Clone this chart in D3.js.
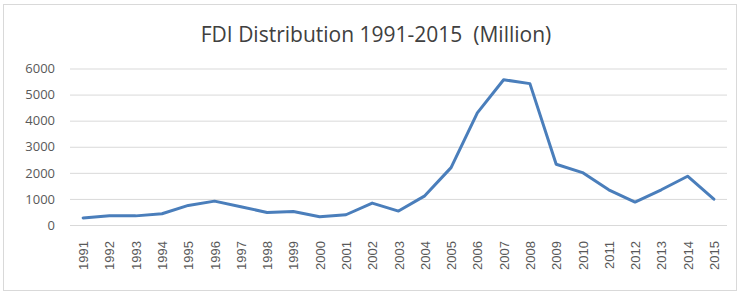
<!DOCTYPE html>
<html>
<head>
<meta charset="utf-8">
<script src="https://cdn.jsdelivr.net/npm/d3@7"></script>
<style>
  body { margin: 0; background: #fff; }
  svg { display: block; }
</style>
</head>
<body>
<svg id="chart" width="750" height="295"></svg>
<script>
// FDI values (million)
var years = ["1991","1992","1993","1994","1995","1996","1997","1998","1999","2000",
  "2001","2002","2003","2004","2005","2006","2007","2008","2009","2010",
  "2011","2012","2013","2014","2015"];
var fdi = [270, 355, 350, 430, 750, 915, 700, 480, 520, 317,
  393, 840, 534, 1118, 2200, 4300, 5570, 5420, 2330, 2010,
  1350, 878, 1350, 1870, 990];
var yTicks = [0, 1000, 2000, 3000, 4000, 5000, 6000];

var svg = d3.select("#chart"),
  margin = { top: 68, left: 70, bottom: 70, right: 23 },
  width = +svg.attr("width"),
  height = +svg.attr("height");

var data = years.map((y, i) => ({ year: y, value: fdi[i] }));

// frame
svg.append("rect")
  .attr("x", 3.5).attr("y", 4.5)
  .attr("width", 733).attr("height", 286)
  .attr("fill", "#fff")
  .attr("stroke", "#d9d9d9");

svg.append("text")
  .attr("x", 376)
  .attr("y", 42)
  .attr("text-anchor", "middle")
  .attr("fill", "#404040")
  .style("font-family", "'Open Sans', sans-serif")
  .style("font-size", "21px")
  .style("white-space", "pre")
  .text("FDI Distribution 1991-2015  (Million)");

var x = d3.scalePoint()
  .domain(years)
  .range([margin.left, width - margin.right])
  .padding(0.5);

var y = d3.scaleLinear().domain([0, 6000]).range([225, margin.top + 0.5]);

// gridlines + y labels
var yAxis = svg.append("g")
  .attr("class", "y-axis")
  .attr("transform", `translate(${margin.left},0)`)
  .call(d3.axisLeft(y).tickValues(yTicks).tickFormat(d3.format("d"))
    .tickSize(-(width - margin.left - margin.right)).tickPadding(15));
yAxis.select(".domain").remove();
yAxis.selectAll("line").attr("stroke", "#d9d9d9");
yAxis.selectAll("text")
  .attr("fill", "#595959")
  .style("font-family", "'Open Sans', sans-serif")
  .style("font-size", "13px");

// x labels
var xAxis = svg.append("g")
  .attr("class", "x-axis")
  .attr("transform", "translate(0,225)")
  .call(d3.axisBottom(x).tickSize(0).tickPadding(0));
xAxis.select(".domain").remove();
xAxis.selectAll("text")
  .attr("transform", "rotate(-90)")
  .attr("text-anchor", "end")
  .attr("x", -16)
  .attr("y", 0)
  .attr("dy", "0.35em")
  .attr("fill", "#595959")
  .style("font-family", "'Liberation Sans', Arial, sans-serif")
  .style("font-size", "13px");

var line = d3.line()
  .x((d) => x(d.year))
  .y((d) => y(d.value));

svg.append("path")
  .datum(data)
  .attr("fill", "none")
  .attr("stroke", "#4a7ebb")
  .attr("stroke-width", 3)
  .attr("stroke-linejoin", "round")
  .attr("stroke-linecap", "round")
  .attr("d", line);
</script>
</body>
</html>
